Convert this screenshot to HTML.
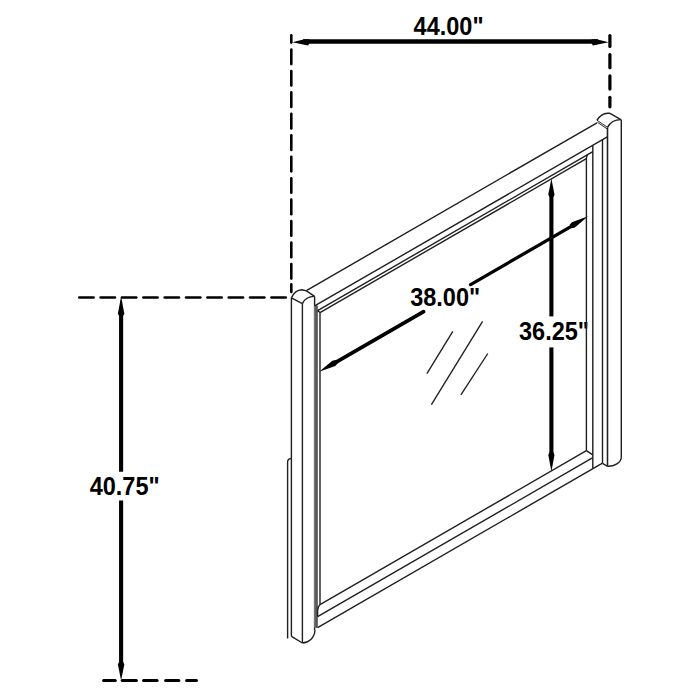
<!DOCTYPE html>
<html><head><meta charset="utf-8"><style>
html,body{margin:0;padding:0;background:#fff;width:700px;height:700px;overflow:hidden}
svg{display:block}
.t{font-family:"Liberation Sans",sans-serif;font-weight:bold;font-size:24.9px;fill:#000}
</style></head><body>
<svg width="700" height="700" viewBox="0 0 700 700">
<rect width="700" height="700" fill="#fff"/>
<line x1="291.30" y1="35.20" x2="291.30" y2="42.60" stroke="#000" stroke-width="2.6" stroke-linecap="round"/>
<line x1="291.30" y1="49.50" x2="291.30" y2="64.10" stroke="#000" stroke-width="2.6" stroke-linecap="round"/>
<line x1="291.30" y1="70.95" x2="291.30" y2="85.55" stroke="#000" stroke-width="2.6" stroke-linecap="round"/>
<line x1="291.30" y1="92.40" x2="291.30" y2="107.00" stroke="#000" stroke-width="2.6" stroke-linecap="round"/>
<line x1="291.30" y1="113.85" x2="291.30" y2="128.45" stroke="#000" stroke-width="2.6" stroke-linecap="round"/>
<line x1="291.30" y1="135.30" x2="291.30" y2="149.90" stroke="#000" stroke-width="2.6" stroke-linecap="round"/>
<line x1="291.30" y1="156.75" x2="291.30" y2="171.35" stroke="#000" stroke-width="2.6" stroke-linecap="round"/>
<line x1="291.30" y1="178.20" x2="291.30" y2="192.80" stroke="#000" stroke-width="2.6" stroke-linecap="round"/>
<line x1="291.30" y1="199.65" x2="291.30" y2="214.25" stroke="#000" stroke-width="2.6" stroke-linecap="round"/>
<line x1="291.30" y1="221.10" x2="291.30" y2="235.70" stroke="#000" stroke-width="2.6" stroke-linecap="round"/>
<line x1="291.30" y1="242.55" x2="291.30" y2="257.15" stroke="#000" stroke-width="2.6" stroke-linecap="round"/>
<line x1="291.30" y1="264.00" x2="291.30" y2="278.60" stroke="#000" stroke-width="2.6" stroke-linecap="round"/>
<line x1="291.30" y1="284.40" x2="291.30" y2="291.90" stroke="#000" stroke-width="2.6" stroke-linecap="round"/>
<line x1="609.90" y1="35.60" x2="609.90" y2="46.40" stroke="#000" stroke-width="3.2" stroke-linecap="round"/>
<line x1="609.90" y1="54.50" x2="609.90" y2="67.70" stroke="#000" stroke-width="3.2" stroke-linecap="round"/>
<line x1="609.90" y1="75.90" x2="609.90" y2="89.10" stroke="#000" stroke-width="3.2" stroke-linecap="round"/>
<line x1="609.90" y1="97.30" x2="609.90" y2="106.80" stroke="#000" stroke-width="3.2" stroke-linecap="round"/>
<line x1="79.30" y1="297.50" x2="93.60" y2="297.50" stroke="#000" stroke-width="2.6" stroke-linecap="round"/>
<line x1="100.65" y1="297.50" x2="114.95" y2="297.50" stroke="#000" stroke-width="2.6" stroke-linecap="round"/>
<line x1="122.00" y1="297.50" x2="136.30" y2="297.50" stroke="#000" stroke-width="2.6" stroke-linecap="round"/>
<line x1="143.35" y1="297.50" x2="157.65" y2="297.50" stroke="#000" stroke-width="2.6" stroke-linecap="round"/>
<line x1="164.70" y1="297.50" x2="179.00" y2="297.50" stroke="#000" stroke-width="2.6" stroke-linecap="round"/>
<line x1="186.05" y1="297.50" x2="200.35" y2="297.50" stroke="#000" stroke-width="2.6" stroke-linecap="round"/>
<line x1="207.40" y1="297.50" x2="221.70" y2="297.50" stroke="#000" stroke-width="2.6" stroke-linecap="round"/>
<line x1="228.75" y1="297.50" x2="243.05" y2="297.50" stroke="#000" stroke-width="2.6" stroke-linecap="round"/>
<line x1="250.10" y1="297.50" x2="264.40" y2="297.50" stroke="#000" stroke-width="2.6" stroke-linecap="round"/>
<line x1="271.45" y1="297.50" x2="285.75" y2="297.50" stroke="#000" stroke-width="2.6" stroke-linecap="round"/>
<line x1="103.60" y1="680.50" x2="115.30" y2="680.50" stroke="#000" stroke-width="3.0" stroke-linecap="round"/>
<line x1="122.20" y1="680.50" x2="136.40" y2="680.50" stroke="#000" stroke-width="3.0" stroke-linecap="round"/>
<line x1="143.50" y1="680.50" x2="157.10" y2="680.50" stroke="#000" stroke-width="3.0" stroke-linecap="round"/>
<line x1="165.60" y1="680.50" x2="178.80" y2="680.50" stroke="#000" stroke-width="3.0" stroke-linecap="round"/>
<line x1="186.60" y1="680.50" x2="196.50" y2="680.50" stroke="#000" stroke-width="3.0" stroke-linecap="round"/>
<line x1="303.00" y1="41.45" x2="598.00" y2="41.45" stroke="#000" stroke-width="4.4" stroke-linecap="butt"/>
<polygon points="292.40,42.20 304.40,39.25 309.30,39.25 309.30,43.70 308.00,45.50" fill="#000"/>
<polygon points="608.60,42.20 596.60,39.25 591.70,39.25 591.70,43.70 593.00,45.50" fill="#000"/>
<line x1="121.10" y1="312.00" x2="121.10" y2="471.80" stroke="#000" stroke-width="4.1" stroke-linecap="butt"/>
<line x1="121.10" y1="500.50" x2="121.10" y2="665.00" stroke="#000" stroke-width="4.1" stroke-linecap="butt"/>
<polygon points="121.10,296.20 124.30,313.60 123.15,316.00 119.05,316.00 117.90,313.60" fill="#000"/>
<polygon points="121.10,680.60 124.30,664.60 123.15,662.00 119.05,662.00 117.90,664.60" fill="#000"/>
<line x1="551.40" y1="192.00" x2="551.40" y2="316.40" stroke="#000" stroke-width="4.1" stroke-linecap="butt"/>
<line x1="551.40" y1="347.40" x2="551.40" y2="458.00" stroke="#000" stroke-width="4.1" stroke-linecap="butt"/>
<polygon points="551.40,178.50 554.50,194.60 553.45,197.00 549.35,197.00 548.30,194.60" fill="#000"/>
<polygon points="551.40,471.60 554.50,455.00 553.45,452.50 549.35,452.50 548.30,455.00" fill="#000"/>
<polygon points="319.10,371.85 335.32,365.94 337.59,363.47 335.59,360.01 332.32,360.75" fill="#000"/>
<polygon points="588.10,216.35 574.88,227.45 571.61,228.19 569.61,224.73 571.88,222.26" fill="#000"/>
<line x1="334.00" y1="363.39" x2="423.60" y2="311.59" stroke="#000" stroke-width="3.7" stroke-linecap="round"/>
<line x1="470.60" y1="284.57" x2="573.00" y2="225.38" stroke="#000" stroke-width="3.3" stroke-linecap="round"/>
<text transform="translate(413.6,35.1) scale(0.944,1)" class="t">44.00&quot;</text>
<text transform="translate(89.7,495.3) scale(0.944,1)" class="t">40.75&quot;</text>
<text transform="translate(410.2,305.8) scale(0.944,1)" class="t">38.00&quot;</text>
<text transform="translate(519.0,340.0) scale(0.944,1)" class="t">36.25&quot;</text>
<line x1="291.40" y1="297.90" x2="291.40" y2="636.40" stroke="#1f1f1f" stroke-width="1.4" stroke-linecap="butt"/>
<line x1="302.40" y1="303.60" x2="302.40" y2="643.00" stroke="#1f1f1f" stroke-width="1.4" stroke-linecap="butt"/>
<line x1="314.60" y1="296.40" x2="314.60" y2="630.00" stroke="#1f1f1f" stroke-width="1.4" stroke-linecap="butt"/>
<path d="M291.4,297.9 C293.5,293.2 297.5,290.0 302.0,289.8 L306.4,290.9" stroke="#1f1f1f" stroke-width="1.4" fill="none" stroke-linejoin="round"/>
<line x1="306.40" y1="290.90" x2="314.60" y2="296.40" stroke="#1f1f1f" stroke-width="1.4" stroke-linecap="butt"/>
<line x1="291.40" y1="297.90" x2="302.40" y2="303.60" stroke="#1f1f1f" stroke-width="1.4" stroke-linecap="butt"/>
<path d="M302.4,303.6 C304.5,299.0 309.0,296.3 314.6,296.4" stroke="#1f1f1f" stroke-width="1.4" fill="none" stroke-linejoin="round"/>
<line x1="291.40" y1="636.40" x2="302.40" y2="643.00" stroke="#1f1f1f" stroke-width="1.4" stroke-linecap="butt"/>
<path d="M302.4,643.0 C308.5,642.8 314.6,638.0 315.0,630.0" stroke="#1f1f1f" stroke-width="1.4" fill="none" stroke-linejoin="round"/>
<path d="M291.2,458.5 C289.2,458.7 287.6,459.8 287.6,462.0 L287.6,638.6" stroke="#1f1f1f" stroke-width="1.4" fill="none" stroke-linejoin="round"/>
<rect x="314.0" y="305.5" width="4.0" height="322.2" fill="#747474"/>
<line x1="316.20" y1="305.50" x2="316.20" y2="627.70" stroke="#555" stroke-width="1.6" stroke-linecap="butt"/>
<line x1="320.00" y1="312.53" x2="320.00" y2="604.53" stroke="#1f1f1f" stroke-width="1.4" stroke-linecap="butt"/>
<line x1="621.30" y1="119.60" x2="621.30" y2="457.80" stroke="#1f1f1f" stroke-width="1.4" stroke-linecap="butt"/>
<line x1="607.50" y1="127.50" x2="607.50" y2="466.30" stroke="#1f1f1f" stroke-width="1.55" stroke-linecap="butt"/>
<path d="M596.9,120.4 C599.5,116.2 603.5,113.4 607.7,113.3 L610.0,113.3" stroke="#1f1f1f" stroke-width="1.4" fill="none" stroke-linejoin="round"/>
<line x1="610.00" y1="113.30" x2="620.90" y2="119.60" stroke="#1f1f1f" stroke-width="1.4" stroke-linecap="butt"/>
<line x1="596.90" y1="120.20" x2="607.50" y2="127.30" stroke="#1f1f1f" stroke-width="0.95" stroke-linecap="butt"/>
<line x1="597.30" y1="122.20" x2="607.50" y2="129.10" stroke="#1f1f1f" stroke-width="0.95" stroke-linecap="butt"/>
<path d="M607.5,127.4 C610.0,122.5 615.0,119.6 620.9,119.6" stroke="#1f1f1f" stroke-width="1.4" fill="none" stroke-linejoin="round"/>
<path d="M621.3,457.5 C621.0,462.5 614.5,466.5 607.5,466.3" stroke="#1f1f1f" stroke-width="1.4" fill="none" stroke-linejoin="round"/>
<line x1="602.50" y1="139.72" x2="602.50" y2="463.12" stroke="#1f1f1f" stroke-width="1.4" stroke-linecap="butt"/>
<line x1="602.50" y1="463.40" x2="607.50" y2="466.30" stroke="#1f1f1f" stroke-width="1.4" stroke-linecap="butt"/>
<line x1="592.80" y1="145.32" x2="592.80" y2="468.72" stroke="#1f1f1f" stroke-width="1.4" stroke-linecap="butt"/>
<line x1="586.40" y1="158.71" x2="586.40" y2="450.71" stroke="#1f1f1f" stroke-width="1.4" stroke-linecap="butt"/>
<line x1="306.40" y1="290.58" x2="597.00" y2="122.79" stroke="#1f1f1f" stroke-width="1.4" stroke-linecap="butt"/>
<line x1="314.60" y1="305.95" x2="607.30" y2="136.94" stroke="#1f1f1f" stroke-width="1.4" stroke-linecap="butt"/>
<line x1="317.60" y1="310.62" x2="592.80" y2="151.72" stroke="#1f1f1f" stroke-width="1.4" stroke-linecap="butt"/>
<line x1="320.00" y1="312.53" x2="586.80" y2="158.48" stroke="#1f1f1f" stroke-width="1.4" stroke-linecap="butt"/>
<line x1="317.60" y1="310.62" x2="320.00" y2="312.53" stroke="#1f1f1f" stroke-width="1.4" stroke-linecap="butt"/>
<path d="M586.4,158.71 Q586.6,155.78 587.6,154.72" stroke="#1f1f1f" stroke-width="1.4" fill="none" stroke-linejoin="round"/>
<line x1="320.00" y1="604.53" x2="586.40" y2="450.71" stroke="#1f1f1f" stroke-width="1.4" stroke-linecap="butt"/>
<path d="M320.0,604.53 C318.5,606.03 317.6,608.03 317.6,610.53 L317.6,616.62" stroke="#1f1f1f" stroke-width="1.4" fill="none" stroke-linejoin="round"/>
<line x1="317.60" y1="616.62" x2="592.80" y2="457.72" stroke="#1f1f1f" stroke-width="1.4" stroke-linecap="butt"/>
<line x1="317.60" y1="627.62" x2="602.50" y2="463.12" stroke="#1f1f1f" stroke-width="1.4" stroke-linecap="butt"/>
<line x1="586.40" y1="450.71" x2="592.80" y2="454.81" stroke="#1f1f1f" stroke-width="1.4" stroke-linecap="butt"/>
<line x1="452.80" y1="331.40" x2="426.90" y2="373.70" stroke="#1f1f1f" stroke-width="1.35" stroke-linecap="butt"/>
<line x1="482.60" y1="321.40" x2="431.40" y2="404.60" stroke="#1f1f1f" stroke-width="1.35" stroke-linecap="butt"/>
<line x1="487.80" y1="353.50" x2="460.90" y2="394.80" stroke="#1f1f1f" stroke-width="1.35" stroke-linecap="butt"/>
</svg>
</body></html>
